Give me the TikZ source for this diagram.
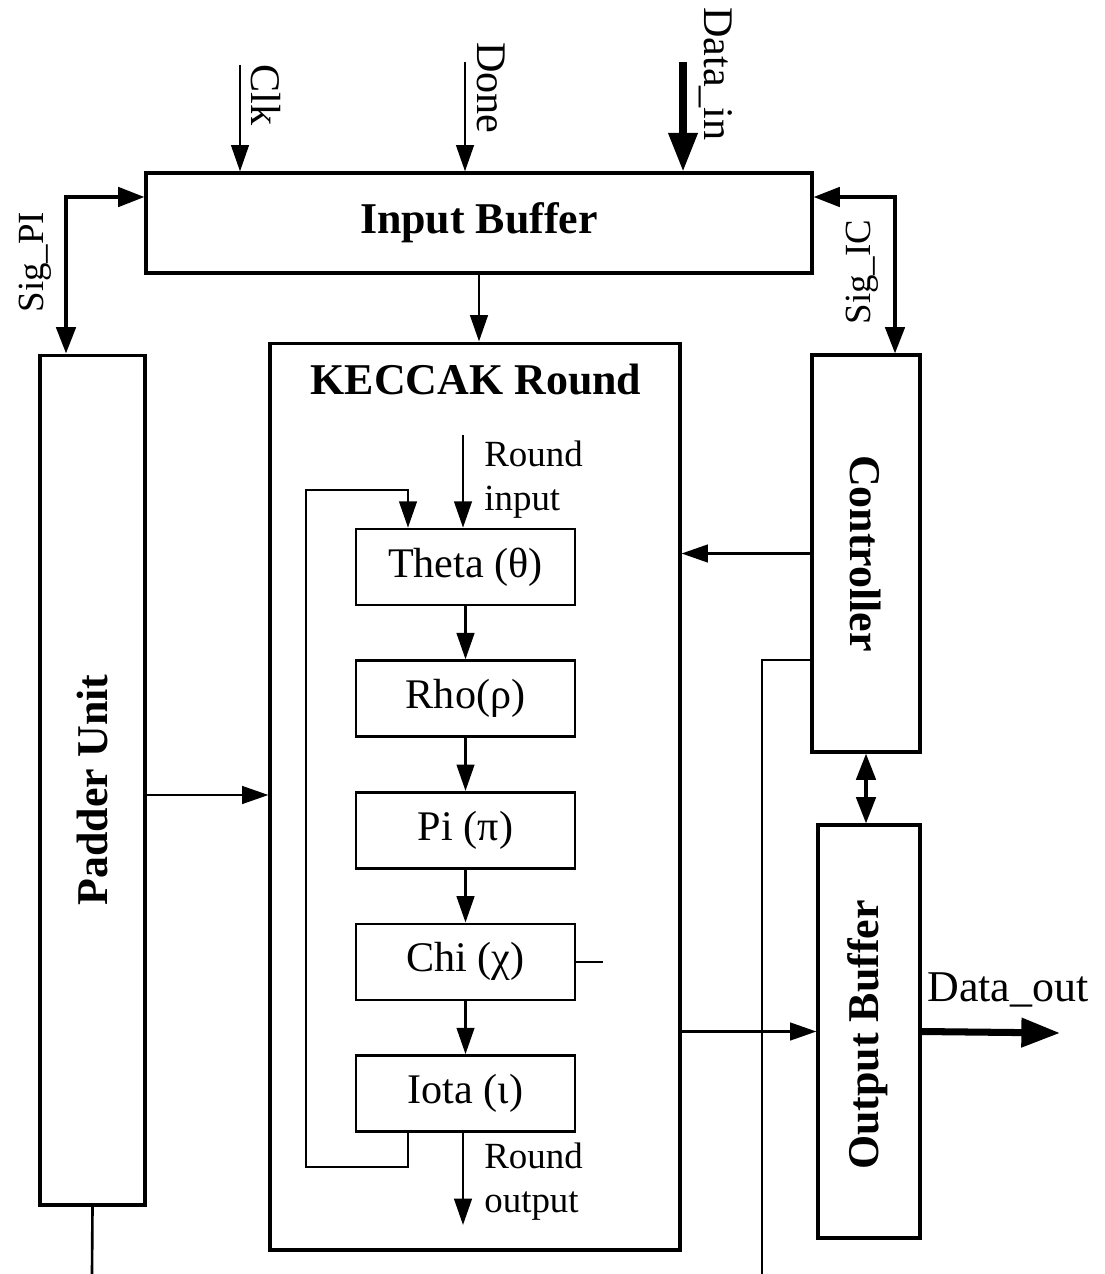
\documentclass[tikz,border=0pt]{standalone}
\usepackage{fontspec}
\setmainfont{Liberation Serif}
\usetikzlibrary{arrows.meta, positioning}
\definecolor{ink}{HTML}{000000}
\tikzset{
  unit/.style  = {draw=ink, line width=1.8pt, inner sep=0pt},
  stage/.style = {unit, line width=1.5pt, minimum width=4.38cm,
                  minimum height=1.52cm, font=\fontsize{24}{28}\selectfont},
  title/.style = {font=\bfseries\fontsize{25}{30}\selectfont, text=ink, inner sep=0pt},
  sig/.style   = {font=\fontsize{24}{28}\selectfont, text=ink, inner sep=0pt},
  note/.style  = {font=\fontsize{21}{25}\selectfont, align=left, inner sep=0pt},
  wire/.style  = {line width=1.5pt, ink},
  arr/.style   = {wire, -{Triangle[length=15pt,width=10pt]}},
  darr/.style  = {wire, line width=2.2pt,
                  {Triangle[length=15pt,width=11pt]}-{Triangle[length=15pt,width=11pt]}},
  bus/.style   = {line width=4pt, ink, -{Triangle[length=22pt,width=16pt]}},
}

\begin{document}
\begin{tikzpicture}[x=0.02cm, y=-0.02cm, node distance=1.06cm]
  \useasboundingbox (0,0) rectangle (1105,1274);

  % blocks
  \node[unit, minimum width=13.32cm, minimum height=2cm] (inbuf) at (479,223) {};
  \node[unit, minimum width=2.1cm, minimum height=17cm] (padder) at (92.5,780) {};
  \node[unit, minimum width=8.2cm, minimum height=18.14cm] (keccak) at (475,796.5) {};
  \node[unit, minimum width=2.16cm, minimum height=7.94cm] (ctrl) at (866,553.5) {};
  \node[unit, minimum width=2.04cm, minimum height=8.26cm] (outbuf) at (869,1031.5) {};

  \node[title] (inbuftxt) at (inbuf) {Input Buffer};
  \node[title, rotate=90] (paddertxt) at (92,790) {Padder Unit};
  \node[title] (keccaktxt) at (476,380) {KECCAK Round};
  \node[title, rotate=-90] (ctrltxt) at (ctrl) {Controller};
  \node[title, rotate=90] (outbuftxt) at (868,1035) {Output Buffer};

  % round steps
  \node[stage] (theta) at (465.5,567) {Theta (θ)};
  \node[stage, below=of theta] (rho) {Rho(ρ)};
  \node[stage, below=of rho] (pi) {Pi (π)};
  \node[stage, below=of pi] (chi) {Chi (χ)};
  \node[stage, below=of chi] (iota) {Iota (ι)};

  \draw[arr] (theta) -- (rho);
  \draw[arr] (rho) -- (pi);
  \draw[arr] (pi) -- (chi);
  \draw[arr] (chi) -- (iota);

  \coordinate (rin) at (463,435);
  \coordinate (rout) at (463,1225);
  \coordinate (fb) at (408,490);
  \coordinate (fbl) at (306,1167);
  \coordinate (chistub) at (603,957);
  \draw[arr] (rin) -- (rin |- theta.north);
  \draw[arr] (rin |- iota.south) -- (rout);
  \draw[arr] (fb |- iota.south) |- (fbl) |- (fb) -- (fb |- theta.north);
  \draw[wire] (chi.east) -- (chi.east -| chistub);
  \node[note, anchor=west] (rintxt) at (484,480) {Round\\input};
  \node[note, anchor=west] (routtxt) at (484,1182) {Round\\output};

  % inputs
  \coordinate (clk) at (240,65);
  \coordinate (done) at (465,62);
  \coordinate (din) at (683,62);
  \draw[arr] (clk) -- (clk |- inbuf.north);
  \draw[arr] (done) -- (done |- inbuf.north);
  \draw[bus] (din) -- (din |- inbuf.north);
  \node[sig, rotate=-90] (clktxt) at (266,95) {Clk};
  \node[sig, rotate=-90] (donetxt) at (491,88) {Done};
  \node[sig, rotate=-90] (dintxt) at (716,74) {Data\_in};

  % handshakes
  \coordinate (sigpi) at (66,197);
  \coordinate (sigic) at (895,197);
  \draw[darr] (inbuf.west |- sigpi) -| (sigpi |- padder.north);
  \draw[darr] (inbuf.east |- sigic) -| (sigic |- ctrl.north);
  \node[sig, rotate=90, font=\fontsize{21}{25}\selectfont] (sigpitxt) at (35,262) {Sig\_PI};
  \node[sig, rotate=90, font=\fontsize{21}{25}\selectfont] (sigictxt) at (862,272) {Sig\_IC};

  % datapath
  \coordinate (padout) at (92,1274);
  \coordinate (tap) at (762,660);
  \coordinate (tapout) at (762,1274);
  \coordinate (dout) at (1060,1033);
  \draw[arr] (inbuf.south) -- (inbuf.south |- keccak.north);
  \draw[arr] ([yshift=-0.3cm]padder.east) -- ([yshift=-0.3cm]padder.east -| keccak.west);
  \draw[wire] (padder.south) -- (padout);
  \draw[arr] (ctrl.west) -- (ctrl.west -| keccak.east);
  \draw[wire] (ctrl.west |- tap) -- (tap) -- (tapout);
  \draw[darr] (ctrl.south) -- (ctrl.south |- outbuf.north);
  \draw[arr] (keccak.east |- outbuf.west) -- (outbuf.west);
  \draw[bus] (outbuf.east) -- (dout);
  \node[sig, font=\fontsize{25}{30}\selectfont] (douttxt) at (1008,990) {Data\_out};
\end{tikzpicture}
\end{document}
